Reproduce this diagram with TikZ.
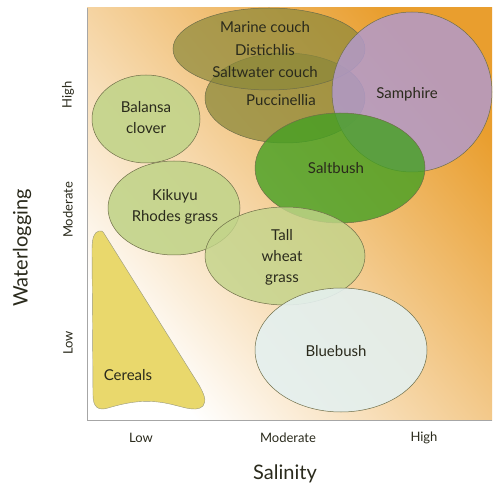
\documentclass[tikz,border=0pt]{standalone}
\usepackage{fontspec}
\setmainfont{Lato}
\usetikzlibrary{shapes.geometric}
\definecolor{bgorange}{HTML}{E99E2E}
\definecolor{olivef}{HTML}{8C893A}
\definecolor{purplef}{HTML}{B29ACB}
\definecolor{greenf}{HTML}{44A022}
\definecolor{lightgreen}{HTML}{C2D48A}
\definecolor{bluef}{HTML}{E4F0EF}
\definecolor{yellowf}{HTML}{E9D86C}
\definecolor{edgec}{HTML}{6E6E48}
\definecolor{textc}{HTML}{2A2A1C}
\tikzset{
  blob/.style={ellipse, draw=edgec, line width=0.5pt, inner sep=0pt},
  lab/.style={text=textc, font=\fontsize{15}{21}\selectfont, align=center},
  axlab/.style={text=textc, font=\fontsize{13}{15}\selectfont},
  axtitle/.style={text=textc, font=\fontsize{20}{24}\selectfont},
}
\begin{document}
\begin{tikzpicture}[x=1pt,y=-1pt]
\useasboundingbox (0,0) rectangle (493,489);
\fill[white] (0,0) rectangle (493,489);
% background
\shade[bottom color=white, middle color=bgorange!48!white, top color=bgorange, shading angle=-50] (87,8) rectangle (492,420);
\draw[gray!70, line width=0.6pt] (87,8) -- (87,420) -- (492,420);
% ellipses
\node[blob, fill=olivef, fill opacity=0.75, minimum width=160pt, minimum height=90pt] (pucc) at (285,98) {};
\node[blob, fill=olivef, fill opacity=0.7, minimum width=192pt, minimum height=82pt] (marine) at (269,49) {};
\node[blob, fill=purplef, fill opacity=0.85, minimum width=160pt, minimum height=160pt] (samph) at (412,92) {};
\node[blob, fill=lightgreen, fill opacity=0.9, minimum width=108pt, minimum height=88pt] (balansa) at (146,119) {};
\node[blob, fill=greenf, fill opacity=0.8, minimum width=170pt, minimum height=110pt] (saltb) at (340,168) {};
\node[blob, fill=lightgreen, fill opacity=0.9, minimum width=132pt, minimum height=94pt] (kiku) at (174,208) {};
\node[blob, fill=lightgreen, fill opacity=0.8, minimum width=160pt, minimum height=98pt] (tall) at (285,256) {};
\node[blob, fill=bluef, fill opacity=0.9, minimum width=172pt, minimum height=124pt] (blue) at (341,350) {};
% cereals
\filldraw[fill=yellowf, draw=edgec!70, line width=0.4pt]
  (99,231) .. controls (94,232) and (92,238) .. (92,250)
  -- (93,395) .. controls (93,407) and (98,411) .. (108,408)
  .. controls (125,403) and (140,400) .. (158,402)
  .. controls (178,404) and (195,414) .. (203,406)
  .. controls (207,401) and (204,394) .. (199,385)
  -- (105,235) .. controls (103,231) and (101,230) .. (99,231) -- cycle;
% labels
\node[lab] (t1) at (265,27) {Marine couch};
\node[lab] (t2) at (265,50) {Distichlis};
\node[lab] (t3) at (265,72) {Saltwater couch};
\node[lab] (t4) at (281,100) {Puccinellia};
\node[lab] (t5) at (407,94) {Samphire};
\node[lab] (t6) at (146,118) {Balansa\\clover};
\node[lab] (t7) at (336,168) {Saltbush};
\node[lab] (t8) at (175,207) {Kikuyu\\Rhodes grass};
\node[lab] (t9) at (282,257) {Tall\\wheat\\grass};
\node[lab] (t10) at (336,351) {Bluebush};
\node[lab] (t11) at (128,375) {Cereals};
% axes
\node[axlab] (xl) at (141,438) {Low};
\node[axlab] (xm) at (288,438) {Moderate};
\node[axlab] (xh) at (424,438) {High};
\node[axtitle] (xt) at (285,474) {Salinity};
\node[axlab, rotate=90] (yh) at (68,95) {High};
\node[axlab, rotate=90] (ym) at (68,210) {Moderate};
\node[axlab, rotate=90] (yl) at (68,343) {Low};
\node[axtitle, rotate=90] (yt) at (22,248) {Waterlogging};
\end{tikzpicture}
\end{document}
